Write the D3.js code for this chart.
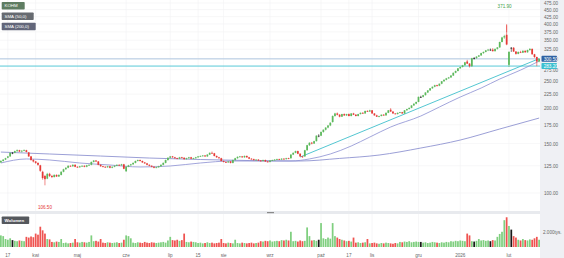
<!DOCTYPE html>
<html>
<head>
<meta charset="utf-8">
<script src="https://cdn.jsdelivr.net/npm/d3@7"></script>
<style>
html, body { margin: 0; padding: 0; background: #fff; }
svg { display: block; font-family: "Liberation Sans", Arial, sans-serif; }
</style>
</head>
<body>
<div id="chart"></div>
<script>
var ticker = "KOHM";
var legendNames = ["KOHM", "SMA (50,0)", "SMA (200,0)"];

// daily candles [open, high, low, close]
var candles = [
    [128.5,131,128,130],[130,132,129.5,131.5],[131.5,133.5,131,133],[133.5,135.5,133,135],[135,139.5,134.5,139],
    [139,140,137.5,139],[139,141.5,138.5,141],[141,143,140,142],[142,142.5,140,140.5],[140.5,142,139.5,141.5],
    [141.5,143,141,142],[142,142.5,139.5,140],[139.5,140,134.5,135],[135,135.5,130.5,131],[131,132,128.5,129.5],
    [129.5,130,127,128],[128,128.5,125,126],[125.5,126,119,120],[119,120,111.5,113],[115,116,106.5,112],
    [112.5,118,112,117],[117,118,114,115],[115,116,113,114],[114,116.5,113.5,116],[116,116.5,114,114.5],
    [114.5,116.5,114,116],[116,119.5,115.5,119],[119,122,118.5,121.5],[121.5,123.5,121,123],[123,125.5,122.5,125],
    [125,125.5,124,124.5],[124.5,126.5,124,126],[126,126.5,123.5,124],[124,124.5,123,123.5],[123.5,125,123,124.5],
    [124.5,125.5,124,125],[125,125.5,123.5,124],[124,126,123.5,125.5],[125.5,126.5,125,126],[126,129.5,125.5,129],
    [129,131,128.5,130.5],[130.5,131,129,129.5],[129.5,130,125.5,126],[126,126.5,124,124.5],[124.5,125,123.5,124],
    [124,124.5,123,123.5],[123.5,125,123,124.5],[124.5,125,122.5,123],[123,124.5,122.5,124],[124,125.5,123.5,125],
    [125,126.5,124.5,126],[126,126.5,125,125.5],[125.5,127,125,126.5],[126.5,127,121.5,122],[119.5,124.5,119,124],
    [124,126,123.5,125.5],[125.5,127,125,126.5],[126.5,128.5,126,128],[128,130.5,127.5,130],[130,131.5,129.5,131],
    [131,131.5,129.5,130],[130,130.5,128,128.5],[128.5,129,127,127.5],[127.5,128,125.5,126],[126,126.5,124.5,125],
    [125,125.5,123.5,124],[124,124.5,122.5,123],[123,124,122.5,123.5],[123.5,125,123,124.5],[124.5,126.5,124,126],
    [126,128.5,125.5,128],[128,131.5,127.5,131],[131,134,130.5,133.5],[133.5,135.5,133,135],[135,135.5,133.5,134],
    [134,134.5,132.5,133],[133,133.5,132,132.5],[132.5,134.5,132,134],[134,134.5,133,133.5],[133.5,134,131.5,132],
    [132,133.5,131.5,133],[133,134.5,132.5,134],[134,134.5,132,132.5],[132.5,133.5,132,133],[133,134.5,132.5,134],
    [134,135.5,133.5,135],[135,136,134.5,135.5],[135.5,136.5,135,136],[136,136.5,134.5,135],[135,137.5,134.5,137],
    [137,139.5,136.5,139],[139,140.5,138,138.5],[138.5,139,135,135.5],[135.5,136,133.5,134],[134,134.5,132.5,133],
    [133,133.5,129.5,130],[130,130.5,128.5,129],[129,129.5,128,128.5],[128.5,130,128,129.5],[129.5,130,127.5,128],
    [128,131.5,127.5,131],[131,133.5,130.5,133],[133,135,132.5,134.5],[134.5,135.5,134,135],[135,135.5,133.5,134],
    [134,136,133.5,135.5],[135.5,136,133.5,134],[134,134.5,132,132.5],[132.5,133,131.5,132],[132,132.5,130.5,131],
    [131,132,130.5,131.5],[131.5,132,130,130.5],[130.5,131,129.5,130],[130,131.5,129.5,131],[131,131.5,129,129.5],
    [129.5,130,128.5,129],[129,131,128.5,130.5],[130.5,131.5,130,131],[131,132,130.5,131.5],[131.5,132.5,131,132],
    [132,132.5,131,131.5],[131.5,133,131,132.5],[132.5,133,131.5,132],[132,133.5,131.5,133],[133,133.5,132,132.5],
    [133,137.5,132.5,137],[137,139.5,136.5,139],[139,141.5,138.5,141],[141,141.5,137.5,138],[138,138.5,134.5,135],
    [135,135.5,133.5,134.5],[135,142.5,134.5,142],[142,148.5,141.5,148],[148,151.5,147,151],[151,152,149,150],
    [150,153.5,149.5,153],[153,160.5,152.5,160],[160,162,158,160],[160,165.5,159.5,165],[165,168.5,164,168],
    [168,171.5,167,171],[171,174.5,170,174],[174,178.5,173,178],[179,189,178,188],[188,193,187,192],
    [192,193.5,189,190],[190,191,186,187],[187,191.5,186.5,191],[191,192,188,189],[189,191.5,188,191],
    [191,192,187.5,188],[188,192.5,187.5,192],[192,193,189.5,190],[190,191,187.5,188],[188,191.5,187.5,191],
    [191,193.5,190.5,193],[193,194,191.5,192],[192,196.5,191.5,196],[196,197,194.5,195],[195,198,194.5,197],
    [197,197.5,191.5,192],[192,192.5,188.5,189],[189,190,186.5,187],[187,188.5,186,188],[188,190.5,187.5,190],
    [190,191,188.5,189],[189,193.5,188.5,193],[193,197.5,192.5,197],[198,200.5,194.5,195],[195,195.5,191.5,192],
    [192,192.5,190.5,191],[191,193.5,190.5,193],[193,194.5,192.5,194],[194,194.5,191.5,192],[192,197.5,191.5,197],
    [197,199.5,196.5,199],[199,201.5,198.5,201],[201,205.5,200.5,205],[205,208.5,204.5,208],[208,211.5,207,211],
    [211,220.5,210.5,220],[220,222,218,220],[220,223.5,219,223],[223,228.5,222.5,228],[228,232.5,227,232],
    [232,236.5,231,236],[236,239.5,235,239],[239,243,238,242],[242,243,239.5,241],[241,245.5,240,245],
    [245,250.5,244,250],[250,254,249,253],[253,257,252,256],[256,259,255,258],[258,263,257,262],
    [262,268.5,261,268],[268,273,267,272],[272,278.5,271,278],[278,282,277,281],[281,286,280,285],
    [285,293,284,292],[294,298,288,289],[289,290,280,283],[283,303,281,302],[302,305,299,302],
    [302,307,301,306],[306,310,305,309],[309,316,308,315],[315,319,313,318],[318,323,317,322],
    [322,326,320,324],[324,327,321,324],[324,328,319,320],[320,327,319,326],[326,331,324,330],
    [330,346,329,345],[345,360,344,358],[358,366,354,362],[366,396,336,338],[286,320,281,318],
    [329,331,318,329],[329,331,318,319],[319,320,311,313],[313,319,312,318],[318,321,315,316],
    [316,322,315,321],[321,322,316,317],[317,324,316,323],[323,328,321,326],[326,327,311,312],
    [312,313,303,305],[305,306,283,294],[294,302,292,300]
];

// volume, thousands of shares
var volumes = [
    1600,1500,1100,1000,1200,950,850,800,900,850,
    800,1400,1300,1450,1350,1850,1700,2800,2300,1850,
    1100,1050,700,650,750,700,1100,550,600,500,
    550,600,1100,650,600,700,650,600,700,1600,
    800,850,750,1100,600,550,650,600,550,600,
    650,550,600,1000,1600,1500,1200,600,550,650,
    600,550,700,600,550,650,600,550,600,650,
    700,600,900,1400,950,900,1000,850,950,1850,
    700,650,750,700,650,550,600,500,550,650,
    550,600,500,550,600,1100,550,500,600,550,
    500,1000,550,500,600,550,500,550,600,500,
    550,600,800,750,850,800,900,750,800,850,
    800,950,900,1000,900,2100,800,850,750,900,
    800,850,2700,1500,900,950,850,1000,3300,1200,
    1100,1300,1150,3300,1500,1300,1100,1000,900,800,
    850,750,1300,600,650,550,600,650,1100,500,
    550,600,500,450,550,500,600,550,500,450,
    550,500,700,650,750,700,800,650,700,750,
    700,700,600,650,550,600,700,650,600,550,
    650,600,700,650,800,750,850,800,900,850,
    800,1850,1600,800,750,850,1100,900,950,850,
    900,800,950,900,1400,1800,2100,3700,4100,2900,
    2400,1500,1300,1000,900,1100,950,900,1050,1000,
    1200,1400,1000
];

// moving averages: [day index, value]
var sma50 = [[0,127.9],[11,132.2],[21,131.1],[34,127.9],[47,125.8],[60,123.8],[73,124.8],[86,127.9],
    [99,130.0],[112,130.0],[125,130.0],[133,132.2],[142,137.7],[151,147.0],[159,158.2],[168,171.8],
    [181,188.0],[189,202.4],[198,219.7],[207,236.5],[215,254.6],[224,274.0],[232,295.0]];
var sma200 = [[0,139.9],[21,137.7],[43,135.4],[64,133.2],[86,131.6],[107,130.5],[129,130.0],[146,132.8],
    [163,136.5],[181,144.6],[198,154.4],[215,169.0],[232,184.9]];

var trendLine = [[129,134.3],[232,301]];
var lastPrice = 300.50;
var levelPrice = 283.20;
var maxLabel = "371.90", maxIndex = 218;
var minLabel = "106.50", minIndex = 19;

var priceTicks = [100,125,150,175,200,225,250,275,300,325,350,375,400,425,450,475];
var volumeTick = 2000;
var dateTicks = [[3,"17"],[15,"kwi"],[33,"maj"],[54,"cze"],[73,"lip"],[85,"15"],[96,"sie"],
    [116,"wrz"],[138,"paź"],[150,"17"],[160,"lis"],[180,"gru"],[198,"2026"],[219,"lut"]];

var W = 564, H = 258, plotW = 540;
var upCol = "#5cb85c", downCol = "#e53935";

var svg = d3.select("#chart").append("svg")
    .attr("width", W)
    .attr("height", H);

var x = d3.scaleBand()
    .domain(d3.range(candles.length))
    .range([0, plotW])
    .paddingInner(0.25);
var cx = function(i) { return x(i) + x.bandwidth() / 2; };

var y = d3.scaleLog().domain([100, 475]).range([193, 3]);
var vy = d3.scaleLinear().domain([0, volumeTick]).range([247, 232.5]);

// axis column
svg.append("rect")
    .attr("x", plotW).attr("y", 0)
    .attr("width", W - plotW).attr("height", H)
    .attr("fill", "#eff0f4");

// grid
var grid = svg.append("g").attr("stroke", "#f1f2f4").attr("stroke-width", 0.6);
grid.selectAll(".h").data(priceTicks).enter().append("line")
    .attr("x1", 0).attr("x2", plotW)
    .attr("y1", function(d) { return y(d); }).attr("y2", function(d) { return y(d); });
grid.selectAll(".v").data(dateTicks).enter().append("line")
    .attr("x1", function(d) { return cx(d[0]); }).attr("x2", function(d) { return cx(d[0]); })
    .attr("y1", 0).attr("y2", 247);

// panel separator
svg.append("rect").attr("x", 0).attr("y", 211).attr("width", plotW).attr("height", 3).attr("fill", "#e8eaee");
svg.append("rect").attr("x", 267).attr("y", 212).attr("width", 7).attr("height", 1.2).attr("fill", "#8a8a8a");

// horizontal price lines
svg.append("line")
    .attr("x1", 0).attr("x2", plotW)
    .attr("y1", y(lastPrice)).attr("y2", y(lastPrice))
    .attr("stroke", "#a9c3df").attr("stroke-width", 0.9);
svg.append("line")
    .attr("x1", 0).attr("x2", plotW)
    .attr("y1", y(levelPrice)).attr("y2", y(levelPrice))
    .attr("stroke", "#46c3d3").attr("stroke-width", 0.9);

// moving averages and trend line
var maLine = d3.line()
    .x(function(d) { return cx(d[0]); })
    .y(function(d) { return y(d[1]); })
    .curve(d3.curveMonotoneX);

svg.append("path").datum(sma200).attr("d", maLine)
    .attr("fill", "none").attr("stroke", "#8286cc").attr("stroke-width", 0.8);
svg.append("path").datum(sma50).attr("d", maLine)
    .attr("fill", "none").attr("stroke", "#8a8ed2").attr("stroke-width", 0.8);
svg.append("path").datum(trendLine).attr("d", d3.line().x(function(d) { return cx(d[0]); }).y(function(d) { return y(d[1]); }))
    .attr("fill", "none").attr("stroke", "#3fc0cc").attr("stroke-width", 0.9);

// candles
var colorOf = function(d) { return d[3] > d[0] ? upCol : (d[3] < d[0] ? downCol : "#222"); };
var cg = svg.append("g");
cg.selectAll("line").data(candles).enter().append("line")
    .attr("x1", function(d, i) { return cx(i); })
    .attr("x2", function(d, i) { return cx(i); })
    .attr("y1", function(d) { return y(d[1]); })
    .attr("y2", function(d) { return y(d[2]); })
    .attr("stroke", colorOf)
    .attr("stroke-width", 0.6);
cg.selectAll("rect").data(candles).enter().append("rect")
    .attr("x", function(d, i) { return x(i); })
    .attr("width", x.bandwidth())
    .attr("y", function(d) { return y(Math.max(d[0], d[3])); })
    .attr("height", function(d) { return Math.max(0.8, Math.abs(y(d[0]) - y(d[3]))); })
    .attr("fill", colorOf);

// max / min markers
svg.append("line")
    .attr("x1", cx(maxIndex)).attr("x2", cx(maxIndex))
    .attr("y1", y(candles[maxIndex][1]) - 1).attr("y2", y(candles[maxIndex][1]) + 7)
    .attr("stroke", downCol).attr("stroke-width", 0.6);
svg.append("text")
    .attr("x", cx(maxIndex) - 2).attr("y", 8)
    .attr("text-anchor", "middle").attr("font-size", 4.6).attr("fill", "#43a047")
    .text(maxLabel);
svg.append("text")
    .attr("x", cx(minIndex)).attr("y", 208.5)
    .attr("text-anchor", "middle").attr("font-size", 4.6).attr("fill", downCol)
    .text(minLabel);

// volume
var volCol = function(i) {
    var d = candles[i];
    return d[3] > d[0] ? "#7fcf7f" : (d[3] < d[0] ? "#ef5350" : "#1a1a1a");
};
svg.append("g").selectAll("rect").data(volumes).enter().append("rect")
    .attr("x", function(d, i) { return x(i); })
    .attr("width", x.bandwidth())
    .attr("y", function(d) { return vy(d); })
    .attr("height", function(d) { return vy(0) - vy(d); })
    .attr("fill", function(d, i) { return volCol(i); });

// right axis
var yAxis = d3.axisRight(y).tickValues(priceTicks).tickFormat(d3.format(".2f")).tickSize(0).tickPadding(4);
var ya = svg.append("g").attr("transform", "translate(" + plotW + ",0)").call(yAxis);
ya.select(".domain").remove();
ya.selectAll("text").attr("font-size", 4.6).attr("fill", "#666").attr("font-family", "Liberation Sans, Arial, sans-serif");

var vAxis = d3.axisRight(vy).tickValues([volumeTick]).tickFormat(function() { return "2.000tys."; }).tickSize(0).tickPadding(3);
var va = svg.append("g").attr("transform", "translate(" + plotW + ",0)").call(vAxis);
va.select(".domain").remove();
va.selectAll("text").attr("font-size", 4.6).attr("fill", "#666").attr("font-family", "Liberation Sans, Arial, sans-serif");

// price boxes
function priceBox(p, bg, fg) {
    var g = svg.append("g").attr("transform", "translate(" + (plotW + 1.5) + "," + y(p) + ")");
    g.append("rect").attr("x", 0).attr("y", -3).attr("width", 15.5).attr("height", 6).attr("rx", 0.8).attr("fill", bg);
    g.append("text").attr("x", 2.2).attr("y", 1.7).attr("font-size", 4.6).attr("fill", fg).text(d3.format(".2f")(p));
}
priceBox(lastPrice, "#2f62a3", "#fff");
priceBox(levelPrice, "#3cbfd0", "#fff");

// bottom axis
var xAxis = d3.axisBottom(x)
    .tickValues(dateTicks.map(function(d) { return d[0]; }))
    .tickFormat(function(i) { return dateTicks.find(function(d) { return d[0] === i; })[1]; })
    .tickSize(0).tickPadding(4);
var xa = svg.append("g").attr("transform", "translate(0,250)").call(xAxis);
xa.select(".domain").remove();
xa.selectAll("text").attr("font-size", 4.6).attr("fill", "#666").attr("font-family", "Liberation Sans, Arial, sans-serif");

// legend tags
var tags = [
    { text: legendNames[0], y: 2, w: 23, bg: "#5f7d62" },
    { text: legendNames[1], y: 12.5, w: 32, bg: "#666a70" },
    { text: legendNames[2], y: 22.8, w: 34, bg: "#62667a" }
];
var lg = svg.append("g");
tags.forEach(function(t) {
    lg.append("rect").attr("x", 1.7).attr("y", t.y).attr("width", t.w).attr("height", 7.5).attr("rx", 0.8).attr("fill", t.bg);
    lg.append("text").attr("x", 4.5).attr("y", t.y + 5.3).attr("font-size", 4.4).attr("fill", "#fff").text(t.text);
});

// volume label
svg.append("rect").attr("x", 1.7).attr("y", 216.5).attr("width", 27.5).attr("height", 7.5).attr("rx", 0.8).attr("fill", "#55585d");
svg.append("text").attr("x", 4.5).attr("y", 221.8).attr("font-size", 4.4).attr("fill", "#fff").attr("font-weight", "bold").text("Wolumen");
</script>
</body>
</html>
